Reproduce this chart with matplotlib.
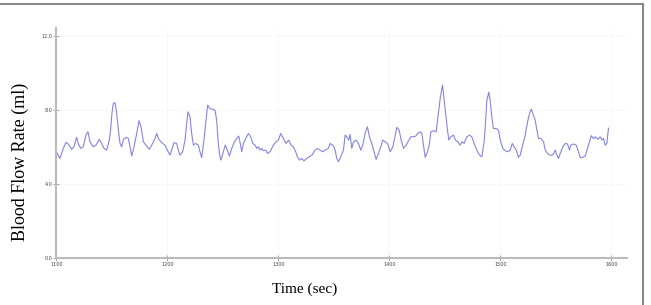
import matplotlib
matplotlib.use("Agg")
import matplotlib.pyplot as plt
from matplotlib.lines import Line2D

# time (sec) and blood flow rate (ml)
time_sec = [
    1100.0, 1103.3, 1106.3, 1108.7, 1110.8, 1112.3, 1113.8, 1115.9, 1118.3, 1119.8,
    1121.9, 1124.3, 1126.7, 1128.5, 1130.3, 1133.3, 1135.7, 1138.7, 1140.8, 1143.0,
    1145.3, 1147.7, 1148.9, 1150.1, 1151.3, 1152.9, 1154.4, 1155.9, 1157.4, 1158.9,
    1160.4, 1162.8, 1164.9, 1166.4, 1167.9, 1170.0, 1172.4, 1174.5, 1176.3, 1178.4,
    1180.8, 1183.8, 1185.9, 1188.9, 1190.4, 1191.9, 1193.4, 1195.8, 1197.9, 1200.0,
    1202.4, 1204.8, 1206.0, 1208.4, 1209.9, 1211.4, 1213.8, 1215.9, 1217.4, 1218.6,
    1220.4, 1221.9, 1223.4, 1225.5, 1227.9, 1229.4, 1230.9, 1233.0, 1234.8, 1236.3,
    1238.4, 1240.8, 1242.9, 1244.4, 1245.9, 1247.4, 1248.3, 1250.4, 1252.2, 1254.0,
    1255.9, 1258.0, 1260.4, 1262.5, 1264.3, 1265.5, 1267.0, 1268.5, 1270.6, 1273.0,
    1275.1, 1276.9, 1279.0, 1280.5, 1282.0, 1283.5, 1285.0, 1286.5, 1288.9, 1290.1,
    1292.5, 1295.5, 1297.9, 1300.0, 1302.1, 1304.5, 1306.9, 1309.3, 1311.4, 1313.5,
    1315.6, 1317.1, 1318.9, 1321.0, 1323.1, 1325.5, 1327.9, 1330.3, 1333.0, 1335.1,
    1337.5, 1339.9, 1342.0, 1345.0, 1346.6, 1349.6, 1351.1, 1352.6, 1354.1, 1356.2,
    1358.6, 1360.1, 1361.6, 1363.4, 1364.6, 1366.1, 1367.6, 1370.0, 1372.1, 1374.2,
    1376.0, 1378.1, 1380.2, 1382.0, 1384.1, 1386.2, 1388.0, 1390.1, 1392.2, 1394.0,
    1396.1, 1398.3, 1400.7, 1403.1, 1405.2, 1406.7, 1408.8, 1410.6, 1412.7, 1415.1,
    1417.2, 1419.3, 1421.7, 1423.8, 1425.3, 1427.7, 1429.2, 1430.7, 1432.2, 1434.3,
    1436.1, 1437.3, 1439.7, 1442.1, 1443.3, 1444.5, 1445.7, 1447.8, 1449.3, 1450.8,
    1452.3, 1453.5, 1455.3, 1457.7, 1459.5, 1461.6, 1463.7, 1465.5, 1467.3, 1469.7,
    1472.1, 1474.2, 1476.3, 1478.7, 1481.1, 1483.2, 1485.3, 1486.5, 1487.7, 1489.5,
    1490.7, 1492.2, 1493.7, 1496.1, 1498.3, 1499.8, 1502.2, 1504.6, 1506.4, 1508.8,
    1510.6, 1512.4, 1514.2, 1516.3, 1517.8, 1519.6, 1522.3, 1524.4, 1526.2, 1527.7,
    1529.2, 1531.3, 1532.8, 1534.3, 1536.4, 1538.8, 1540.3, 1542.4, 1544.2, 1546.3,
    1547.8, 1549.3, 1550.8, 1552.3, 1553.8, 1556.2, 1558.3, 1560.4, 1562.2, 1563.4,
    1565.8, 1568.2, 1570.3, 1571.8, 1574.2, 1576.3, 1578.4, 1580.2, 1581.7, 1583.8,
    1585.6, 1587.7, 1589.8, 1591.3, 1592.8, 1594.3, 1595.8, 1597.3,
]
flow_ml = [
    5.73, 5.37, 5.91, 6.24, 6.15, 6.00, 5.86, 6.00, 6.51, 6.18,
    5.91, 6.00, 6.63, 6.81, 6.27, 6.00, 6.09, 6.40, 6.18, 5.91,
    5.82, 6.36, 6.90, 7.80, 8.34, 8.38, 7.80, 6.90, 6.18, 6.00,
    6.40, 6.51, 6.45, 6.00, 5.50, 6.00, 6.72, 7.41, 7.08, 6.27,
    6.09, 5.86, 6.09, 6.45, 6.72, 6.45, 6.33, 6.18, 6.09, 5.82,
    5.55, 6.00, 6.22, 6.18, 5.82, 5.55, 5.73, 6.36, 7.26, 7.89,
    7.62, 6.72, 6.09, 6.18, 6.09, 5.73, 5.42, 6.36, 7.44, 8.25,
    8.07, 8.02, 7.98, 7.44, 6.18, 5.46, 5.28, 5.73, 6.09, 5.82,
    5.50, 5.91, 6.27, 6.45, 6.58, 6.22, 5.73, 6.18, 6.45, 6.72,
    6.54, 6.18, 6.09, 5.91, 6.00, 5.82, 5.91, 5.79, 5.82, 5.64,
    5.73, 6.09, 6.27, 6.36, 6.72, 6.45, 6.18, 6.36, 6.09, 6.00,
    5.73, 5.46, 5.28, 5.37, 5.24, 5.37, 5.46, 5.55, 5.82, 5.91,
    5.82, 5.73, 5.82, 5.91, 6.18, 6.04, 5.82, 5.37, 5.19, 5.46,
    5.82, 6.63, 6.54, 6.36, 6.67, 5.91, 6.27, 6.36, 6.18, 5.82,
    6.09, 6.72, 7.08, 6.54, 6.18, 5.73, 5.32, 5.64, 6.00, 6.36,
    6.27, 6.18, 5.73, 6.00, 6.63, 7.05, 6.90, 6.36, 5.91, 6.09,
    6.33, 6.54, 6.54, 6.58, 6.72, 6.81, 6.72, 6.09, 5.43, 5.73,
    6.18, 6.81, 6.87, 6.81, 7.44, 7.98, 8.61, 9.34, 8.52, 7.71,
    6.90, 6.36, 6.54, 6.63, 6.36, 6.27, 6.09, 6.27, 6.18, 6.54,
    6.63, 6.54, 6.18, 5.82, 5.55, 5.46, 6.27, 7.26, 8.49, 8.96,
    8.52, 7.62, 6.99, 6.99, 6.90, 6.36, 5.91, 5.78, 5.73, 5.82,
    6.18, 6.00, 5.82, 5.43, 5.55, 6.00, 6.63, 7.35, 7.80, 8.04,
    7.80, 7.44, 6.90, 6.45, 6.45, 6.27, 5.82, 5.64, 5.55, 5.55,
    5.61, 5.82, 5.55, 5.37, 5.64, 6.00, 6.18, 6.15, 5.82, 6.09,
    6.15, 6.09, 5.73, 5.41, 5.43, 5.50, 5.91, 6.27, 6.60, 6.45,
    6.54, 6.40, 6.54, 6.36, 6.45, 6.09, 6.18, 7.00,
]
x_ticks = [1100, 1200, 1300, 1400, 1500, 1600]
y_ticks = [0.0, 4.0, 8.0, 12.0]

fig = plt.figure(figsize=(6.51, 3.05), dpi=100)
ax = fig.add_axes([0.0865, 0.155, 0.8767, 0.753])

ax.plot(time_sec, flow_ml, color="#8484e4", lw=0.8)

ax.set_xlim(1100, 1614)
ax.set_ylim(0, 12.42)
ax.set_xticks(x_ticks)
ax.set_xticklabels([str(t) for t in x_ticks])
ax.set_yticks(y_ticks)
ax.set_yticklabels(["%.1f" % v for v in y_ticks])
ax.tick_params(direction="inout", length=4, width=0.6, color="#999999",
               labelsize=3.5, labelcolor="#444444", pad=1)
ax.grid(True, color="#f7f7f7", lw=0.6)

for side in ("top", "right"):
    ax.spines[side].set_visible(False)
for side in ("left", "bottom"):
    ax.spines[side].set_color("#bbbbbb")
    ax.spines[side].set_linewidth(1.5)

fig.text(20 / 651, 1 - 161.5 / 305, "Blood Flow Rate (ml)", rotation=90,
         ha="center", va="center", family="Liberation Serif", fontsize=13)
fig.text(305 / 651, 1 - 289 / 305, "Time (sec)", ha="center", va="center",
         family="Liberation Serif", fontsize=11)

# frame of the screenshot
fig.add_artist(Line2D([0, 642.5 / 651], [1 - 3.5 / 305] * 2, color="#888888", lw=1.5))
fig.add_artist(Line2D([642.5 / 651] * 2, [0, 1 - 3.5 / 305], color="#888888", lw=1.5))

fig.savefig("out.png", dpi=100)
